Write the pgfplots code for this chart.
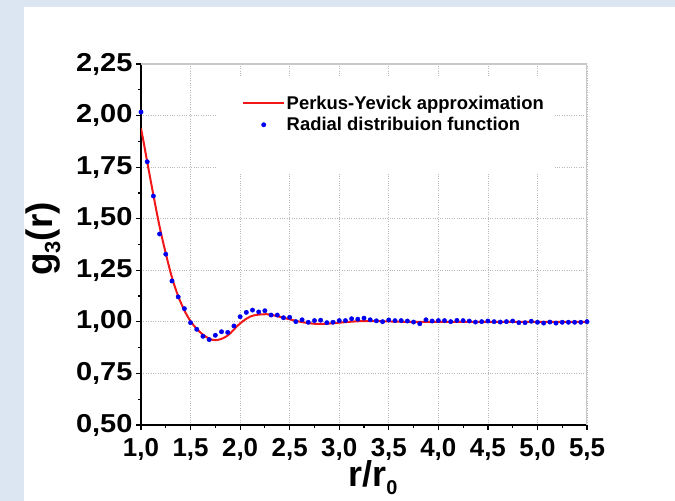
\documentclass[border=0pt]{standalone}
\usepackage{fontspec}
\setmainfont{Liberation Sans}
\newfontfamily\widefont[FakeStretch=1.12]{Liberation Sans}
\usepackage{pgfplots}
\pgfplotsset{compat=1.18}
\definecolor{bgblue}{HTML}{DCE6F2}
\definecolor{ared}{HTML}{F01818}
\definecolor{ablue}{HTML}{0000F0}
\definecolor{frgray}{HTML}{C8C8C8}

\begin{document}
\begin{tikzpicture}[x=1bp,y=1bp]
\path[use as bounding box] (0,0) rectangle (675,501);
\fill[bgblue] (0,0) rectangle (675,501);
\fill[white] (24,0) rectangle (675,494);
\begin{axis}[
  at={(141bp,76bp)}, anchor=south west, scale only axis,
  width=446bp, height=361bp,
  xmin=1, xmax=5.5, ymin=0.5, ymax=2.25,
  xtick={1,1.5,2,2.5,3,3.5,4,4.5,5,5.5},
  ytick={0.5,0.75,1,1.25,1.5,1.75,2,2.25},
  minor x tick num=1, minor y tick num=1,
  axis x line*=bottom, axis y line*=left,
  axis line style={black, line width=1.3bp},
  tick align=outside, major tick length=5bp, minor tick length=3bp,
  tick style={black, line width=1.2bp},
  grid=major, major grid style={gray!55, dotted, line width=0.8bp},
  x tick label style={/pgf/number format/.cd, use comma, fixed, fixed zerofill, precision=1, /tikz/.cd,
    font=\fontsize{26}{26}\selectfont\bfseries, yshift=-5bp},
  y tick label style={/pgf/number format/.cd, use comma, fixed, fixed zerofill, precision=2, /tikz/.cd,
    font=\widefont\fontsize{26}{26}\selectfont\bfseries},
  /pgf/number format/assume math mode=true,
  xlabel={r/r\raisebox{-8bp}{\fontsize{20}{20}\selectfont 0}},
  ylabel={g\raisebox{-8bp}{\fontsize{22}{22}\selectfont 3}(r)},
  x label style={font=\fontsize{36}{36}\selectfont\bfseries, at={(axis description cs:0.52,0)}, anchor=base, yshift=-62bp},
  y label style={font=\fontsize{37}{37}\selectfont\bfseries, at={(axis description cs:-0.2197,0.515)}, anchor=center, rotate=0},
  legend style={at={(0.2265,0.916)}, anchor=north west, draw=none, fill=none, inner sep=0pt,
    font=\fontsize{18.5}{20}\selectfont\bfseries, row sep=3.5bp, nodes={inner sep=1.5bp},
    /tikz/every even column/.append style={column sep=4bp}},
  legend cell align=left,
]
\fill[white] (axis cs:1.767,2.182) rectangle (axis cs:5.18,1.726);
\draw[frgray, line width=1.3bp] (rel axis cs:0,1) -- (rel axis cs:1,1) -- (rel axis cs:1,0);
\addplot[ared, line width=2bp, smooth, tension=0.6, no marks,
  legend image code/.code={\draw[ared, line width=2bp] (0bp,0bp) -- (41bp,0bp);}]
  coordinates {
  (1.0,1.938) (1.03,1.862) (1.0625,1.776) (1.125,1.615) (1.1875,1.462) (1.25,1.332)
  (1.3125,1.215) (1.375,1.125) (1.4375,1.056) (1.5,1.003) (1.5625,0.966) (1.625,0.938)
  (1.6875,0.919) (1.75,0.911) (1.83,0.921) (1.9,0.944) (1.965,0.977) (2.03,1.004)
  (2.1,1.025) (2.17,1.034) (2.27,1.037) (2.37,1.028) (2.47,1.016) (2.57,1.004)
  (2.7,0.993) (2.8,0.990) (2.9,0.992) (3.0,0.996) (3.1,1.000) (3.2,1.003) (3.35,1.004)
  (3.5,1.002) (3.7,1.000) (4.0,1.000) (4.5,1.000) (5.0,1.000) (5.5,1.000)
  };
\addlegendentry{Perkus-Yevick approximation}
\addplot[only marks, mark=*, mark size=2.2bp, mark options={ablue, draw=ablue, fill=ablue},
  legend image code/.code={\path (0bp,0bp) (41bp,0bp); \fill[ablue] (20.5bp,0bp) circle (2.2bp);}]
  coordinates {
  (1.0,2.017) (1.0625,1.776) (1.125,1.610) (1.1875,1.426) (1.25,1.328) (1.3125,1.198)
  (1.375,1.121) (1.4375,1.064) (1.5,0.996) (1.5625,0.964) (1.625,0.930) (1.6875,0.914)
  (1.75,0.935) (1.8125,0.952) (1.875,0.949) (1.9375,0.980) (2.0,1.025) (2.0625,1.046)
  (2.125,1.057) (2.1875,1.048) (2.25,1.054) (2.3125,1.033) (2.375,1.033) (2.4375,1.020)
  (2.5,1.022) (2.5625,1.001) (2.625,1.010) (2.6875,0.998) (2.75,1.006) (2.8125,1.008)
  (2.875,0.996) (2.9375,0.998) (3.0,1.006) (3.0625,1.006) (3.125,1.015) (3.1875,1.013)
  (3.25,1.018) (3.3125,1.010) (3.375,1.005) (3.4375,1.001) (3.5,1.009) (3.5625,1.006)
  (3.625,1.006) (3.6875,1.004) (3.75,0.999) (3.8125,0.991) (3.875,1.010) (3.9375,1.004)
  (4.0,1.006) (4.0625,1.006) (4.125,1.001) (4.1875,1.007) (4.25,1.006) (4.3125,1.004)
  (4.375,0.999) (4.4375,1.001) (4.5,1.004) (4.5625,1.001) (4.625,0.999) (4.6875,1.001)
  (4.75,1.004) (4.8125,0.996) (4.875,0.996) (4.9375,1.003) (5.0,0.998) (5.0625,0.994)
  (5.125,0.999) (5.1875,0.994) (5.25,0.998) (5.3125,0.998) (5.375,0.998) (5.4375,0.998)
  (5.5,1.001)
  };
\addlegendentry{Radial distribuion function}
\end{axis}
\end{tikzpicture}
\end{document}
